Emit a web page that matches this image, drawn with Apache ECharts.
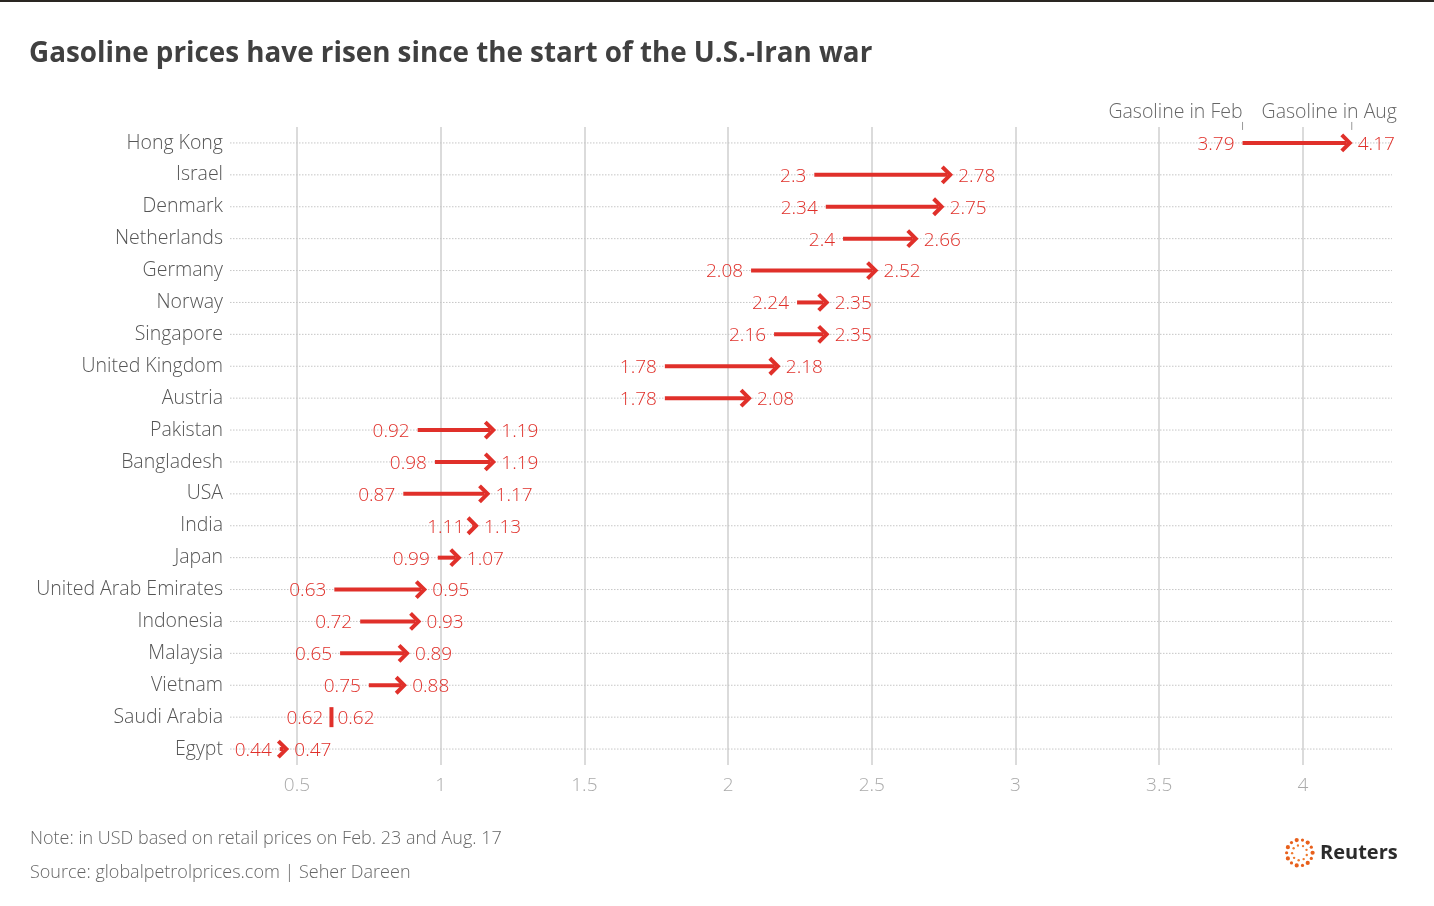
<!DOCTYPE html>
<html>
<head>
<meta charset="utf-8">
<script src="https://cdn.jsdelivr.net/npm/echarts@6/dist/echarts.min.js"></script>
<style>
  html, body { margin: 0; padding: 0; background: #fff; }
  #main { width: 1434px; height: 906px; }
</style>
</head>
<body>
<div id="main"></div>
<script>
// countries, top to bottom
var countries = ['Hong Kong', 'Israel', 'Denmark', 'Netherlands', 'Germany', 'Norway', 'Singapore',
  'United Kingdom', 'Austria', 'Pakistan', 'Bangladesh', 'USA', 'India', 'Japan',
  'United Arab Emirates', 'Indonesia', 'Malaysia', 'Vietnam', 'Saudi Arabia', 'Egypt'];
// USD per litre, Feb. 23
var febPrice = [3.79, 2.3, 2.34, 2.4, 2.08, 2.24, 2.16, 1.78, 1.78, 0.92, 0.98, 0.87, 1.11, 0.99,
  0.63, 0.72, 0.65, 0.75, 0.62, 0.44];
// USD per litre, Aug. 17
var augPrice = [4.17, 2.78, 2.75, 2.66, 2.52, 2.35, 2.35, 2.18, 2.08, 1.19, 1.19, 1.17, 1.13, 1.07,
  0.95, 0.93, 0.89, 0.88, 0.62, 0.47];

var RED = '#e0302a';
var FONT = '"Open Sans", "Noto Sans", sans-serif';
var chart = echarts.init(document.getElementById('main'));

var seriesData = countries.map(function (c, i) {
  return [febPrice[i], augPrice[i], c];
});

function renderArrow(params, api) {
  var i = params.dataIndex;
  var feb = api.value(0), aug = api.value(1);
  var s = api.coord([feb, i]);
  var t = api.coord([aug, i]);
  var cs = params.coordSys;
  var y = s[1];
  var ty = y + 1.5; // text sits a touch low in the original
  var kids = [];
  // dotted row guide
  kids.push({
    type: 'line',
    shape: { x1: cs.x, y1: y, x2: cs.x + cs.width, y2: y },
    style: { stroke: '#c6c6c6', lineWidth: 1, lineDash: [1.5, 1.5] }
  });
  if (aug === feb) {
    kids.push({ type: 'rect', shape: { x: s[0] - 2, y: y - 10, width: 4, height: 20 }, style: { fill: RED } });
  } else {
    var tip = t[0] - 2;
    kids.push({
      type: 'line',
      shape: { x1: s[0], y1: y, x2: tip - 3, y2: y },
      style: { stroke: RED, lineWidth: 4 }
    });
    kids.push({
      type: 'polyline',
      shape: { points: [[tip - 8, y - 8], [tip, y], [tip - 8, y + 8]] },
      style: { stroke: RED, lineWidth: 4, fill: null, lineJoin: 'miter' }
    });
  }
  kids.push({
    type: 'text', x: s[0] - 8, y: ty,
    style: { text: String(feb), align: 'right', verticalAlign: 'middle', fill: RED, font: '300 19px ' + FONT }
  });
  kids.push({
    type: 'text', x: t[0] + 6, y: ty,
    style: { text: String(aug), align: 'left', verticalAlign: 'middle', fill: RED, font: '300 19px ' + FONT }
  });
  // column captions above the first row
  if (i === 0) {
    kids.push({ type: 'line', shape: { x1: s[0], y1: y - 21, x2: s[0], y2: y - 13 }, style: { stroke: '#999', lineWidth: 1 } });
    kids.push({ type: 'line', shape: { x1: t[0], y1: y - 21, x2: t[0], y2: y - 13 }, style: { stroke: '#999', lineWidth: 1 } });
    kids.push({
      type: 'text', x: s[0], y: y - 31,
      style: { text: 'Gasoline in Feb', align: 'right', verticalAlign: 'middle', fill: '#666', font: '300 19.5px ' + FONT }
    });
    kids.push({
      type: 'text', x: cs.x + cs.width + 5, y: y - 31,
      style: { text: 'Gasoline in Aug', align: 'right', verticalAlign: 'middle', fill: '#666', font: '300 19.5px ' + FONT }
    });
  }
  return { type: 'group', children: kids };
}

// Reuters dotted ring logo
var logo = [];
for (var k = 0; k < 14; k++) {
  var a = k / 14 * Math.PI * 2;
  logo.push({ type: 'circle', shape: { cx: 1300 + 13 * Math.cos(a), cy: 853 + 13 * Math.sin(a), r: k % 2 ? 1.6 : 2.1 }, style: { fill: '#e8601c' } });
}
for (var m = 0; m < 9; m++) {
  var b = m / 9 * Math.PI * 2 + 0.3;
  logo.push({ type: 'circle', shape: { cx: 1300 + 7.5 * Math.cos(b), cy: 853 + 7.5 * Math.sin(b), r: 1.2 }, style: { fill: '#ef7a2e' } });
}

chart.setOption({
  backgroundColor: '#fff',
  animation: false,
  title: {
    text: 'Gasoline prices have risen since the start of the U.S.-Iran war',
    left: 24, top: 35,
    textStyle: { fontFamily: FONT, fontWeight: 'bold', fontSize: 27.8, color: '#404040' }
  },
  grid: { left: 230, right: 42, top: 127, bottom: 141 },
  xAxis: {
    type: 'value',
    min: 0.267, max: 4.31,
    minInterval: 0.5, maxInterval: 0.5,
    axisLine: { show: false },
    axisTick: { show: false },
    axisLabel: {
      showMinLabel: false, showMaxLabel: false,
      margin: 11, fontSize: 19, fontWeight: 300, fontFamily: FONT, color: '#aaa'
    },
    splitLine: { show: true, showMinLine: false, showMaxLine: false, lineStyle: { color: '#cfcfcf', width: 1.5 } }
  },
  yAxis: {
    type: 'category',
    data: countries,
    inverse: true,
    axisLine: { show: false },
    axisTick: { show: false },
    splitLine: { show: false },
    axisLabel: { margin: 7, padding: [4, 0, 0, 0], fontSize: 19.5, fontWeight: 300, fontFamily: FONT, color: '#555' }
  },
  series: [{
    type: 'custom',
    renderItem: renderArrow,
    encode: { x: [0, 1], y: 2 },
    data: seriesData
  }],
  graphic: [
    { type: 'rect', left: 0, top: 0, shape: { width: 1434, height: 2 }, style: { fill: '#2a2622' } },
    { type: 'text', left: 30, top: 830, style: { text: 'Note: in USD based on retail prices on Feb. 23 and Aug. 17', fill: '#666', font: '300 18px ' + FONT } },
    { type: 'text', left: 30, top: 864, style: { text: 'Source: globalpetrolprices.com | Seher Dareen', fill: '#666', font: '300 18px ' + FONT } },
    { type: 'group', left: 1285, top: 838, children: logo },
    { type: 'text', left: 1320, top: 843, style: { text: 'Reuters', fill: '#2b2b2b', font: 'bold 20px ' + FONT } }
  ]
});
</script>
</body>
</html>
